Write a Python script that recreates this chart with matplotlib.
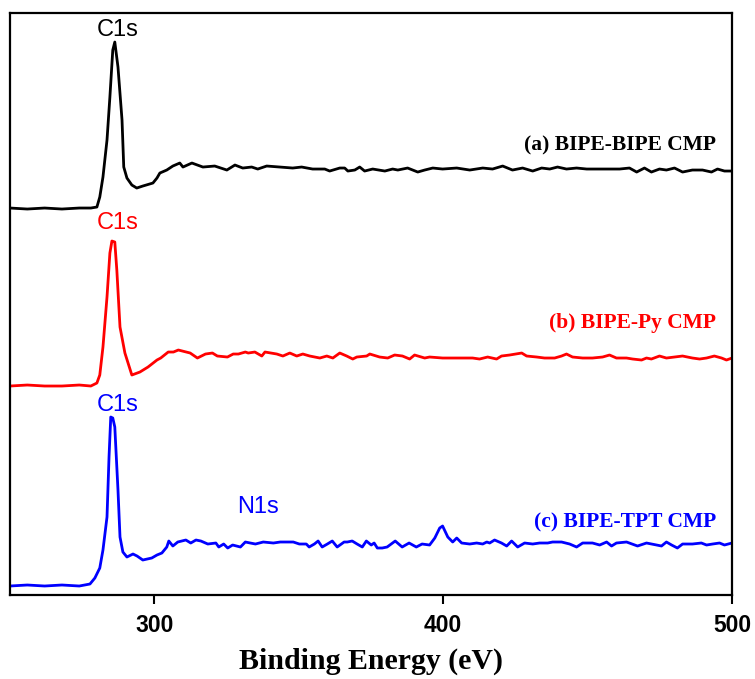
import matplotlib
matplotlib.use("Agg")
import matplotlib.pyplot as plt

# XPS survey spectra, binding energy (eV) vs intensity (a.u., stacked)
energy_a = [250, 256, 262, 268, 274, 278, 280.1, 281.1, 282.2, 283.6, 284.6, 285.6, 286.3,
            287.4, 288.8, 289.4, 290.5, 292.2, 293.9, 296.0, 299.5, 300.9, 301.9, 304.3,
            306.4, 308.8, 309.9, 313.0, 316.8, 320.9, 325.1, 327.9, 330.6, 333.7, 335.8,
            338.9, 343.4, 347.9, 351.0, 354.8, 359.0, 360.7, 364.2, 365.9, 367.0, 369.4,
            371.1, 372.8, 375.6, 379.8, 382.5, 384.3, 387.7, 391.2, 393.6, 396.4, 399.8,
            404.7, 409.2, 413.7, 417.1, 420.6, 424.0, 427.5, 431.0, 434.1, 436.9, 439.6,
            442.7, 446.2, 449.7, 453.1, 457.6, 461.1, 464.5, 467.0, 469.7, 472.1, 474.9,
            477.3, 480.1, 482.9, 486.3, 489.8, 492.9, 495.0, 497.4, 500]
intensity_a = [387, 386, 387, 386, 387, 387, 388, 398, 418, 455, 498, 545, 553,
               528, 475, 428, 417, 410, 407, 409, 412, 417, 422, 425,
               429, 432, 428, 432, 428, 429, 425, 430, 427, 428, 426,
               429, 428, 427, 428, 426, 426, 424, 427, 427, 424, 425,
               428, 424, 426, 424, 426, 425, 427, 423, 425, 427, 426,
               427, 425, 427, 426, 429, 425, 427, 424, 427, 426, 428,
               426, 427, 426, 426, 426, 426, 427, 423, 427, 423, 426,
               425, 427, 423, 425, 425, 423, 426, 424, 424]

energy_b = [250, 256, 262, 268, 274, 278, 280.1, 281.1, 282.2, 283.6, 284.6, 285.3, 286.3,
            287.0, 288.1, 289.8, 292.2, 295.0, 297.8, 300.9, 302.2, 304.8, 306.6, 308.3,
            312.4, 314.9, 317.7, 320.1, 321.8, 325.3, 327.3, 329.1, 331.5, 332.5, 334.8,
            337.2, 338.3, 342.4, 344.5, 346.9, 349.3, 351.4, 353.8, 357.3, 359.7, 361.8,
            364.2, 366.6, 368.7, 370.1, 373.5, 374.6, 378.0, 380.8, 383.2, 385.9, 388.4,
            390.1, 393.6, 395.3, 399.8, 404.7, 408.1, 410.2, 412.6, 415.4, 418.5, 420.2,
            423.0, 427.2, 428.9, 432.4, 435.1, 438.6, 441.0, 442.7, 444.8, 448.3, 451.7,
            455.2, 457.6, 460.0, 463.5, 465.6, 468.7, 470.4, 472.1, 474.9, 477.3, 480.1,
            482.9, 486.3, 488.8, 491.2, 493.9, 496.4, 498.1, 500]
intensity_b = [209, 210, 209, 209, 210, 209, 212, 220, 248, 298, 342, 354, 353,
               325, 268, 242, 220, 223, 228, 235, 237, 243, 243, 245,
               242, 237, 241, 242, 239, 238, 241, 241, 243, 242, 243,
               239, 243, 241, 239, 242, 239, 241, 239, 237, 239, 237,
               242, 239, 236, 238, 239, 241, 238, 237, 240, 239, 236,
               240, 237, 238, 237, 237, 237, 237, 236, 238, 236, 239,
               240, 242, 239, 238, 237, 237, 239, 241, 238, 237, 237,
               238, 240, 237, 237, 236, 235, 237, 236, 239, 237, 238,
               239, 237, 236, 237, 239, 237, 235, 237]

energy_c = [250, 256, 262, 268, 274, 277.7, 279.4, 281.1, 282.2, 283.6, 284.3, 284.9, 285.6,
            286.3, 287.4, 288.1, 289.1, 290.5, 292.6, 294.0, 296.0, 299.1, 300.9, 302.6,
            304.3, 305.0, 306.4, 308.1, 310.9, 312.6, 314.4, 316.1, 318.5, 321.3, 322.3,
            324.0, 325.4, 327.1, 329.8, 331.5, 333.2, 335.0, 337.7, 341.2, 343.6, 346.0,
            348.1, 350.2, 352.6, 353.6, 355.4, 356.7, 358.1, 359.9, 361.6, 363.3, 365.7,
            366.8, 368.5, 370.2, 372.0, 373.4, 375.1, 376.1, 377.2, 378.9, 380.6, 383.4,
            385.8, 388.2, 390.7, 392.7, 395.3, 397.1, 398.8, 399.8, 401.6, 403.3, 404.7,
            406.4, 409.2, 411.6, 413.7, 415.1, 416.1, 417.8, 420.2, 422.0, 423.7, 425.8,
            428.2, 431.0, 433.4, 436.2, 437.9, 441.0, 443.8, 446.2, 448.3, 451.7, 454.2,
            456.6, 458.3, 460.0, 463.5, 467.3, 470.4, 473.9, 475.6, 477.3, 479.1, 481.1,
            482.9, 486.3, 489.4, 491.2, 493.3, 495.7, 497.4, 500]
intensity_c = [9, 10, 9, 10, 9, 11, 17, 27, 45, 78, 138, 178, 177,
               168, 105, 58, 43, 38, 41, 39, 35, 37, 40, 42,
               48, 54, 49, 53, 55, 52, 55, 54, 51, 52, 48,
               51, 47, 50, 48, 53, 52, 51, 53, 52, 53, 53,
               53, 51, 51, 48, 51, 54, 48, 51, 54, 48, 53,
               53, 54, 51, 48, 54, 50, 52, 47, 47, 48, 54,
               48, 52, 48, 51, 50, 57, 67, 69, 58, 53, 57,
               52, 51, 52, 51, 53, 52, 55, 52, 49, 54, 48,
               52, 51, 52, 52, 53, 53, 51, 48, 52, 52, 50,
               53, 49, 52, 53, 49, 52, 50, 49, 53, 50, 47,
               51, 51, 52, 50, 51, 52, 50, 52]

sample_names = ["(a) BIPE-BIPE CMP", "(b) BIPE-Py CMP", "(c) BIPE-TPT CMP"]
colors = ["black", "red", "blue"]

fig = plt.figure(figsize=(7.55, 6.79), dpi=100)
ax = fig.add_axes([0.0132, 0.1237, 0.9563, 0.8571])

series = [(energy_a, intensity_a), (energy_b, intensity_b), (energy_c, intensity_c)]
for (x, y), c in zip(series, colors):
    ax.plot(x, y, color=c, lw=2.0)

ax.set_xlim(250, 500)
ax.set_ylim(0, 582)
ax.set_xticks([300, 400, 500])
ax.set_yticks([])
ax.tick_params(axis="x", direction="out", length=6.5, width=1.5, pad=7)
for lab in ax.get_xticklabels():
    lab.set_fontfamily("Liberation Sans")
    lab.set_fontweight("bold")
    lab.set_fontsize(16.5)
for s in ax.spines.values():
    s.set_linewidth(1.6)

ax.set_xlabel("Binding Energy (eV)", fontfamily="Liberation Serif",
              fontweight="bold", fontsize=21.5, labelpad=8)

# peak labels
sans = dict(fontfamily="Liberation Sans", fontsize=17, ha="center", va="center")
ax.text(287.4, 565, "C1s", color="black", **sans)
ax.text(287.4, 372, "C1s", color="red", **sans)
ax.text(287.4, 190, "C1s", color="blue", **sans)
ax.text(336.0, 88, "N1s", color="blue", **sans)

# sample labels
label_y = [450, 272, 73]
for name, c, yy in zip(sample_names, colors, label_y):
    ax.text(494.6, yy, name, color=c, ha="right", va="center",
            fontfamily="Liberation Serif", fontweight="bold", fontsize=15.5)

fig.savefig("out.png", dpi=100)
